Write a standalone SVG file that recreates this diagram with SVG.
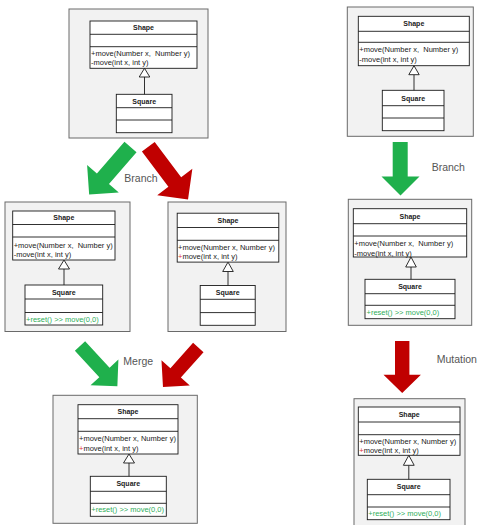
<svg xmlns="http://www.w3.org/2000/svg" width="487" height="525" viewBox="0 0 487 525">
<style>
.panel{fill:#f2f2f2;stroke:#6a6a6a;stroke-width:1}
.box{fill:#fff;stroke:#1a1a1a;stroke-width:0.9}
.dv{stroke:#1a1a1a;stroke-width:0.9}
text{font-family:"Liberation Sans",Arial,sans-serif;fill:#222;white-space:pre}
.b{font-size:7px;font-weight:bold;text-anchor:middle}
.t{font-size:7.5px}
.g{font-size:7.5px;fill:#2fae5a}
.r{fill:#e0303a}
.lbl{font-size:10.5px;fill:#555}
.gen{stroke:#1a1a1a;stroke-width:0.9;fill:none}
.tri{fill:#fff;stroke:#1a1a1a;stroke-width:0.9}
.ga{fill:#1fb04c}
.ra{fill:#c00000}
</style>

<g id="panel-original">
  <rect class="panel" x="69" y="9" width="139" height="129"/>
  <g id="shape-1">
    <rect class="box" x="90" y="21" width="107" height="47.3"/>
    <line class="dv" x1="90" y1="34.3" x2="197" y2="34.3"/>
    <line class="dv" x1="90" y1="46.7" x2="197" y2="46.7"/>
    <text class="b" x="143.5" y="30.3">Shape</text>
    <text class="t" x="91" y="55.5">+move(Number x,  Number y)</text>
    <text class="t" x="91" y="65">-move(int x, int y)</text>
  </g>
  <g id="square-1">
    <rect class="box" x="116.3" y="94.3" width="55.7" height="38.4"/>
    <line class="dv" x1="116.3" y1="107.7" x2="172" y2="107.7"/>
    <line class="dv" x1="116.3" y1="120" x2="172" y2="120"/>
    <text class="b" x="144.2" y="103.6">Square</text>
  </g>
</g>

<g id="panel-branch-a">
  <rect class="panel" x="5" y="202" width="125" height="129.5"/>
  <g id="shape-2">
    <rect class="box" x="12.7" y="211" width="102.3" height="49"/>
    <line class="dv" x1="12.7" y1="224.5" x2="115" y2="224.5"/>
    <line class="dv" x1="12.7" y1="237" x2="115" y2="237"/>
    <text class="b" x="63.8" y="220.4">Shape</text>
    <text class="t" x="13.7" y="247.5">+move(Number x,  Number y)</text>
    <text class="t" x="13.7" y="257.3">-move(int x, int y)</text>
  </g>
  <g id="square-2">
    <rect class="box" x="25" y="285" width="77.7" height="40"/>
    <line class="dv" x1="25" y1="299" x2="102.7" y2="299"/>
    <line class="dv" x1="25" y1="312.5" x2="102.7" y2="312.5"/>
    <text class="b" x="63.8" y="294.6">Square</text>
    <text class="g" x="26" y="321.8">+reset() &gt;&gt; move(0,0)</text>
  </g>
</g>

<g id="panel-branch-b">
  <rect class="panel" x="168" y="202" width="118" height="129.5"/>
  <g id="shape-3">
    <rect class="box" x="177.2" y="213.2" width="101.6" height="48.9"/>
    <line class="dv" x1="177.2" y1="227.5" x2="278.8" y2="227.5"/>
    <line class="dv" x1="177.2" y1="240.3" x2="278.8" y2="240.3"/>
    <text class="b" x="228" y="223">Shape</text>
    <text class="t" x="178" y="249.5">+move(Number x, Number y)</text>
    <text class="t" x="178" y="259.3"><tspan class="r">+</tspan>move(int x, int y)</text>
  </g>
  <g id="square-3">
    <rect class="box" x="200.2" y="285.5" width="55" height="39.8"/>
    <line class="dv" x1="200.2" y1="299.3" x2="255.2" y2="299.3"/>
    <line class="dv" x1="200.2" y1="312.6" x2="255.2" y2="312.6"/>
    <text class="b" x="227.7" y="295">Square</text>
  </g>
</g>

<g id="panel-merged">
  <rect class="panel" x="53" y="395.3" width="144.3" height="128"/>
  <g id="shape-4">
    <rect class="box" x="78" y="404.7" width="100" height="49.3"/>
    <line class="dv" x1="78" y1="418.7" x2="178" y2="418.7"/>
    <line class="dv" x1="78" y1="431.3" x2="178" y2="431.3"/>
    <text class="b" x="128" y="414.3">Shape</text>
    <text class="t" x="79" y="441.3">+move(Number x, Number y)</text>
    <text class="t" x="79" y="451"><tspan class="r">+</tspan>move(int x, int y)</text>
  </g>
  <g id="square-4">
    <rect class="box" x="90.3" y="476.3" width="76" height="40"/>
    <line class="dv" x1="90.3" y1="491.3" x2="166.3" y2="491.3"/>
    <line class="dv" x1="90.3" y1="503.3" x2="166.3" y2="503.3"/>
    <text class="b" x="128.3" y="486.3">Square</text>
    <text class="g" x="91.3" y="512.3">+reset() &gt;&gt; move(0,0)</text>
  </g>
</g>

<g id="panel-right-original">
  <rect class="panel" x="347.3" y="7" width="126" height="129.3"/>
  <g id="shape-5">
    <rect class="box" x="358.3" y="16.3" width="111" height="49.4"/>
    <line class="dv" x1="358.3" y1="31.3" x2="469.3" y2="31.3"/>
    <line class="dv" x1="358.3" y1="42.3" x2="469.3" y2="42.3"/>
    <text class="b" x="413.8" y="26.3">Shape</text>
    <text class="t" x="359.3" y="51.5">+move(Number x,  Number y)</text>
    <text class="t" x="359.3" y="62">-move(int x, int y)</text>
  </g>
  <g id="square-5">
    <rect class="box" x="382.3" y="90.3" width="61.7" height="40.4"/>
    <line class="dv" x1="382.3" y1="105.7" x2="444" y2="105.7"/>
    <line class="dv" x1="382.3" y1="118" x2="444" y2="118"/>
    <text class="b" x="413.2" y="100.6">Square</text>
  </g>
</g>

<g id="panel-right-branch">
  <rect class="panel" x="348.3" y="199.3" width="123.4" height="126"/>
  <g id="shape-6">
    <rect class="box" x="353.3" y="208.7" width="113.4" height="48.3"/>
    <line class="dv" x1="353.3" y1="223.7" x2="466.7" y2="223.7"/>
    <line class="dv" x1="353.3" y1="236" x2="466.7" y2="236"/>
    <text class="b" x="410" y="218.7">Shape</text>
    <text class="t" x="354.3" y="246">+move(Number x,  Number y)</text>
    <text class="t" x="354.3" y="255.5">-move(int x, int y)</text>
  </g>
  <g id="square-6">
    <rect class="box" x="365" y="279.3" width="90" height="39.4"/>
    <line class="dv" x1="365" y1="293.7" x2="455" y2="293.7"/>
    <line class="dv" x1="365" y1="305.3" x2="455" y2="305.3"/>
    <text class="b" x="410" y="289">Square</text>
    <text class="g" x="366.5" y="314.5">+reset() &gt;&gt; move(0,0)</text>
  </g>
</g>

<g id="panel-right-mutation">
  <rect class="panel" x="354" y="398.7" width="111" height="127"/>
  <g id="shape-7">
    <rect class="box" x="358.3" y="407" width="101.7" height="48.3"/>
    <line class="dv" x1="358.3" y1="422" x2="460" y2="422"/>
    <line class="dv" x1="358.3" y1="434.7" x2="460" y2="434.7"/>
    <text class="b" x="409.2" y="417">Shape</text>
    <text class="t" x="359.3" y="443.8">+move(Number x, Number y)</text>
    <text class="t" x="359.3" y="452.8"><tspan class="r">+</tspan>move(int x, int y)</text>
  </g>
  <g id="square-7">
    <rect class="box" x="367.3" y="479.3" width="82.7" height="40.4"/>
    <line class="dv" x1="367.3" y1="494.7" x2="450" y2="494.7"/>
    <line class="dv" x1="367.3" y1="507" x2="450" y2="507"/>
    <text class="b" x="408.7" y="489.3">Square</text>
    <text class="g" x="368.3" y="515.5">+reset() &gt;&gt; move(0,0)</text>
  </g>
</g>

<g id="connectors">
  <g id="inheritance">
    <line class="gen" x1="144.5" y1="94.3" x2="144.5" y2="77"/>
    <polygon class="tri" points="144.5,68.3 149.8,77 139.2,77"/>
    <line class="gen" x1="64" y1="285" x2="64" y2="269"/>
    <polygon class="tri" points="64,260 69.5,269 58.5,269"/>
    <line class="gen" x1="228" y1="285.5" x2="228" y2="271.5"/>
    <polygon class="tri" points="228,262.1 233.3,271.5 222.7,271.5"/>
    <line class="gen" x1="129" y1="476.3" x2="129" y2="463"/>
    <polygon class="tri" points="129,454 134.5,463 123.5,463"/>
    <line class="gen" x1="414" y1="90.3" x2="414" y2="74.7"/>
    <polygon class="tri" points="414,65.7 419.2,74.7 408.8,74.7"/>
    <line class="gen" x1="411" y1="279.3" x2="411" y2="267"/>
    <polygon class="tri" points="411,257 416.3,267 405.7,267"/>
    <line class="gen" x1="408.8" y1="479.3" x2="408.8" y2="465.3"/>
    <polygon class="tri" points="408.8,455.3 414.2,465.3 403.4,465.3"/>
  </g>
  <g id="block-arrows">
    <path class="ga" d="M -8 0 L 8 0 L 8 42 L 21 42 L 0 63 L -21 42 L -8 42 Z" transform="translate(130.5,147) rotate(41)"/>
    <path class="ra" d="M -8 0 L 8 0 L 8 44 L 22 44 L 0 66 L -22 44 L -8 44 Z" transform="translate(148.3,146.8) rotate(-37)"/>
    <path class="ga" d="M -7 0 L 7 0 L 7 36 L 19 36 L 0 55 L -19 36 L -7 36 Z" transform="translate(80,346) rotate(-42.8)"/>
    <path class="ra" d="M -7 0 L 7 0 L 7 34 L 19 34 L 0 53 L -19 34 L -7 34 Z" transform="translate(198.3,347.5) rotate(41.8)"/>
    <path class="ga" d="M 392.7 142 L 407.7 142 L 407.7 176.5 L 419.5 176.5 L 400.5 195.5 L 381.5 176.5 L 392.7 176.5 Z"/>
    <path class="ra" d="M 395 341 L 409.4 341 L 409.4 374.7 L 420.9 374.7 L 402.2 393 L 383.5 374.7 L 395 374.7 Z"/>
  </g>
  <text class="lbl" x="124.3" y="181.5">Branch</text>
  <text class="lbl" x="123.3" y="364.8">Merge</text>
  <text class="lbl" x="431.7" y="171">Branch</text>
  <text class="lbl" x="436.7" y="362.5">Mutation</text>
</g>
</svg>
